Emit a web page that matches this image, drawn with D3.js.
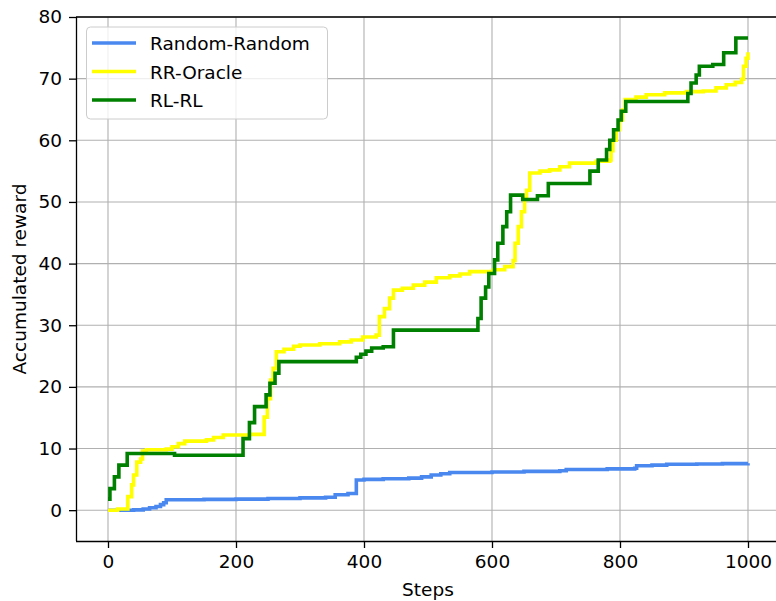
<!DOCTYPE html>
<html>
  <head>
    <meta charset="utf-8"/>
    <title>Accumulated reward</title>
    <style>
      body { margin: 0; background: #fff; }
      text { font-family: "DejaVu Sans", sans-serif; fill: #000; }
      .grid line { stroke: #b0b0b0; stroke-width: 1.1px; }
      .series { fill: none; stroke-width: 3.6px; stroke-linejoin: miter; }
    </style>
    <script src="https://d3js.org/d3.v7.min.js"></script>
  </head>
  <body>
    <svg id="chart" width="776" height="601"></svg>
    <script>
      // tick values
      var xTicks = [0, 200, 400, 600, 800, 1000];
      var yTicks = [0, 10, 20, 30, 40, 50, 60, 70, 80];

      // series: step index and accumulated reward (value holds until next step)
      var randomSteps  = [0, 40, 55, 65, 75, 82, 87, 91, 150, 200, 250, 300, 340, 355, 375, 388, 400, 430, 470, 490, 505, 520, 534, 600, 650, 706, 716, 780, 823, 826, 850, 873, 920, 960, 1000];
      var randomValues = [0, 0.05, 0.2, 0.4, 0.6, 0.9, 1.2, 1.7, 1.75, 1.8, 1.9, 2.0, 2.1, 2.5, 2.7, 4.9, 5.0, 5.1, 5.2, 5.4, 5.7, 5.9, 6.1, 6.2, 6.3, 6.4, 6.6, 6.7, 6.8, 7.2, 7.3, 7.45, 7.5, 7.55, 7.6];

      var oracleSteps  = [0, 15, 31, 37, 40, 45, 51, 54, 60, 91, 100, 110, 120, 154, 165, 180, 221, 244, 249, 254, 258, 263, 275, 290, 300, 331, 362, 380, 398, 419, 424, 432, 440, 446, 460, 477, 495, 513, 534, 550, 565, 602, 620, 633, 636, 641, 646, 651, 654, 659, 675, 690, 706, 721, 763, 784, 786, 789, 794, 799, 804, 808, 825, 841, 870, 904, 930, 950, 966, 980, 990, 993, 997, 1000];
      var oracleValues = [0, 0.2, 2.2, 4.1, 5.7, 7.8, 8.3, 9.6, 9.8, 9.9, 10.3, 10.8, 11.2, 11.4, 11.8, 12.2, 12.3, 15.1, 18.1, 21.1, 23.0, 25.7, 26.1, 26.6, 26.8, 27.0, 27.3, 27.6, 28.1, 28.4, 31.4, 32.7, 34.4, 35.7, 36.0, 36.5, 37.0, 37.7, 38.0, 38.3, 38.7, 39.0, 39.5, 40.5, 43.3, 46.0, 48.4, 50.6, 51.9, 54.7, 55.0, 55.2, 55.7, 56.3, 56.6, 56.8, 58.3, 60.0, 61.7, 63.3, 64.9, 66.6, 67.0, 67.4, 67.7, 67.9, 68.0, 68.5, 69.0, 69.4, 69.9, 72.0, 73.3, 74.3];

      var rlSteps  = [0, 3, 10, 17, 30, 104, 211, 221, 229, 247, 253, 261, 267, 388, 395, 403, 412, 430, 446, 578, 583, 590, 595, 604, 609, 617, 623, 629, 648, 671, 688, 753, 766, 779, 784, 790, 797, 802, 809, 906, 911, 919, 924, 945, 962, 981, 1000];
      var rlValues = [1.8, 3.5, 5.4, 7.3, 9.2, 8.9, 11.6, 14.2, 16.8, 18.7, 20.6, 22.2, 24.1, 24.8, 25.3, 25.8, 26.3, 26.5, 29.2, 31.1, 34.4, 36.2, 38.4, 40.6, 43.3, 46.0, 48.4, 51.1, 50.4, 51.0, 53.0, 55.0, 56.8, 58.5, 60.0, 61.7, 63.3, 64.7, 66.3, 67.6, 69.3, 70.6, 72.0, 72.3, 74.2, 76.6, 76.6];

      var seriesNames  = ["Random-Random", "RR-Oracle", "RL-RL"];
      var seriesColors = ["#4a88f0", "#ffff00", "#008000"];

      var series = [
        { name: seriesNames[0], color: seriesColors[0], steps: randomSteps, values: randomValues },
        { name: seriesNames[1], color: seriesColors[1], steps: oracleSteps, values: oracleValues },
        { name: seriesNames[2], color: seriesColors[2], steps: rlSteps, values: rlValues }
      ];

      var svg = d3.select("#chart");
      var fontSize = 18.5;
      var plotLeft = 76, plotTop = 17, plotBottom = 541, plotRight = 780;

      var x = d3.scaleLinear().domain([-50, 1050]).range([plotLeft, plotRight]);
      var y = d3.scaleLinear().domain([-5, 80]).range([plotBottom, plotTop]);

      // grid
      var grid = svg.append("g").attr("class", "grid");
      grid.selectAll(".vx").data(xTicks).enter().append("line")
        .attr("x1", function(d) { return x(d); }).attr("x2", function(d) { return x(d); })
        .attr("y1", plotTop).attr("y2", plotBottom);
      grid.selectAll(".hy").data(yTicks).enter().append("line")
        .attr("x1", plotLeft).attr("x2", plotRight)
        .attr("y1", function(d) { return y(d); }).attr("y2", function(d) { return y(d); });

      // lines
      var line = d3.line()
        .x(function(d) { return x(d[0]); })
        .y(function(d) { return y(d[1]); })
        .curve(d3.curveStepAfter);

      svg.selectAll(".series").data(series).enter().append("path")
        .attr("class", "series")
        .attr("stroke", function(s) { return s.color; })
        .attr("d", function(s) {
          return line(s.steps.map(function(st, i) { return [st, s.values[i]]; }));
        });

      // axes
      var xAxis = svg.append("g").attr("transform", "translate(0," + plotBottom + ")")
        .call(d3.axisBottom(x).tickValues(xTicks).tickSize(7).tickPadding(7).tickFormat(d3.format("d")));
      var yAxis = svg.append("g").attr("transform", "translate(" + plotLeft + ",0)")
        .call(d3.axisLeft(y).tickValues(yTicks).tickSize(7).tickPadding(7).tickFormat(d3.format("d")));

      [xAxis, yAxis].forEach(function(ax) {
        ax.select(".domain").attr("stroke", "#000").attr("stroke-width", 1.3);
        ax.selectAll(".tick line").attr("stroke", "#000").attr("stroke-width", 1.3);
        ax.selectAll(".tick text").attr("font-size", fontSize).attr("font-family", "DejaVu Sans").attr("fill", "#000");
      });
      // plain spines, no end caps
      xAxis.select(".domain").attr("d", "M" + plotLeft + ",0.5H" + plotRight);
      yAxis.select(".domain").attr("d", "M0.5," + plotBottom + "V" + plotTop);

      // top spine
      svg.append("line")
        .attr("x1", plotLeft).attr("x2", plotRight).attr("y1", plotTop).attr("y2", plotTop)
        .attr("stroke", "#000").attr("stroke-width", 1.3);

      // axis labels
      svg.append("text")
        .attr("x", 428).attr("y", 596)
        .attr("text-anchor", "middle").attr("font-size", fontSize)
        .text("Steps");

      svg.append("text")
        .attr("transform", "translate(26," + ((plotTop + plotBottom) / 2) + ") rotate(-90)")
        .attr("text-anchor", "middle").attr("font-size", fontSize)
        .text("Accumulated reward");

      // legend
      var legend = svg.append("g");
      legend.append("rect")
        .attr("x", 86.5).attr("y", 27).attr("width", 241).attr("height", 92)
        .attr("rx", 4).attr("ry", 4)
        .attr("fill", "#fff").attr("fill-opacity", 0.8)
        .attr("stroke", "#cccccc").attr("stroke-width", 1);

      var rowY = [43, 71.5, 100];
      var rows = legend.selectAll(".row").data(series).enter().append("g")
        .attr("transform", function(d, i) { return "translate(0," + rowY[i] + ")"; });
      rows.append("line")
        .attr("x1", 92).attr("x2", 136).attr("y1", 0).attr("y2", 0)
        .attr("stroke", function(d) { return d.color; }).attr("stroke-width", 3.6);
      rows.append("text")
        .attr("x", 150).attr("y", 7).attr("font-size", fontSize)
        .text(function(d) { return d.name; });
    </script>
  </body>
</html>
